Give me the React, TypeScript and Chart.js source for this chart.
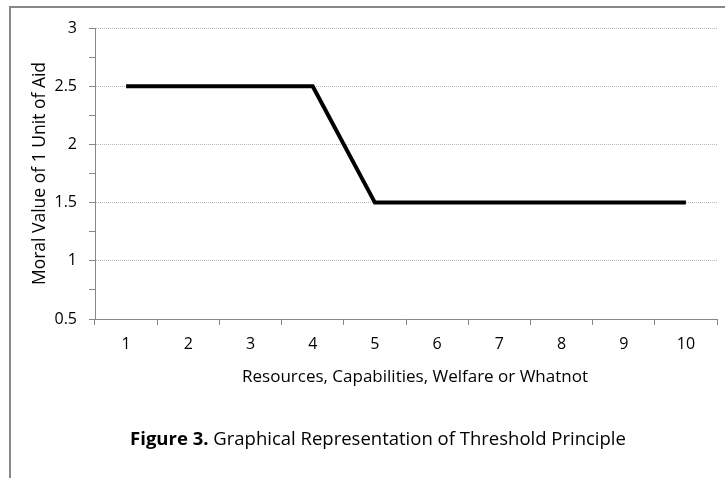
import React, { useEffect, useRef } from "react";
import { Chart, registerables } from "chart.js";

Chart.register(...registerables);

const categories = ["1", "2", "3", "4", "5", "6", "7", "8", "9", "10"];
const moralValues = [2.5, 2.5, 2.5, 2.5, 1.5, 1.5, 1.5, 1.5, 1.5, 1.5];
const yMin = 0.5;
const yMax = 3;
const yStep = 0.25;
const xTitle = "Resources, Capabilities, Welfare or Whatnot";
const yTitle = "Moral Value of 1 Unit of Aid";
const captionBold = "Figure 3.";
const captionRest = " Graphical Representation of Threshold Principle";

const FONT = "'Open Sans', Lato, sans-serif";

const isMajor = (n: number) => Math.abs(n / 0.5 - Math.round(n / 0.5)) < 1e-6;

const framePlugin = {
  id: "frameCaption",
  beforeDraw(chart: any) {
    const ctx = chart.ctx;
    ctx.save();
    ctx.fillStyle = "#ffffff";
    ctx.fillRect(0, 0, chart.width, chart.height);
    ctx.strokeStyle = "#888888";
    ctx.lineWidth = 2;
    ctx.beginPath();
    ctx.moveTo(10, chart.height);
    ctx.lineTo(10, 7);
    ctx.lineTo(chart.width, 7);
    ctx.stroke();
    ctx.restore();
  },
  afterDraw(chart: any) {
    const ctx = chart.ctx;
    const area = chart.chartArea;
    ctx.save();
    ctx.fillStyle = "#000000";
    ctx.textBaseline = "middle";
    // x axis title (Excel places it slightly right of plot centre)
    ctx.font = `17px ${FONT}`;
    ctx.textAlign = "center";
    ctx.fillText(xTitle, (area.left + area.right) / 2 + 9, area.bottom + 58);
    // caption
    const boldFont = `bold 18.5px ${FONT}`;
    const normFont = `18.5px ${FONT}`;
    ctx.font = boldFont;
    const wb = ctx.measureText(captionBold).width;
    ctx.font = normFont;
    const wn = ctx.measureText(captionRest).width;
    const cx = 378;
    const start = cx - (wb + wn) / 2;
    ctx.textAlign = "left";
    ctx.font = boldFont;
    ctx.fillText(captionBold, start, 440);
    ctx.font = normFont;
    ctx.fillText(captionRest, start + wb, 440);
    ctx.restore();
  },
};

export default function App() {
  const canvasRef = useRef<HTMLCanvasElement | null>(null);

  useEffect(() => {
    if (!canvasRef.current) return;
    const chart = new Chart(canvasRef.current, {
      type: "line",
      data: {
        labels: categories,
        datasets: [
          {
            data: moralValues,
            borderColor: "#000000",
            borderWidth: 4,
            pointRadius: 0,
            fill: false,
            tension: 0,
          },
        ],
      },
      plugins: [framePlugin],
      options: {
        animation: false,
        responsive: false,
        maintainAspectRatio: false,
        layout: { padding: { left: 24, top: 28, right: 8, bottom: 91 } },
        plugins: { legend: { display: false }, tooltip: { enabled: false } },
        scales: {
          x: {
            offset: true,
            afterFit: (s: any) => {
              s.height = 68;
            },
            grid: {
              offset: true,
              drawOnChartArea: false,
              drawTicks: true,
              tickLength: 6,
              tickColor: "#888888",
            },
            border: { display: true, color: "#888888", width: 1 },
            ticks: {
              color: "#000000",
              font: { family: FONT, size: 16 },
              padding: 10,
              maxRotation: 0,
            },
            title: { display: false },
          },
          y: {
            min: yMin,
            max: yMax,
            afterFit: (s: any) => {
              s.width = 71;
            },
            ticks: {
              stepSize: yStep,
              color: "#000000",
              font: { family: FONT, size: 16 },
              padding: 12,
              callback: (v: any) => (isMajor(Number(v)) ? String(Number(v)) : ""),
            },
            grid: {
              drawTicks: true,
              tickLength: 6,
              tickColor: "#888888",
              color: (c: any) => (c.tick && isMajor(c.tick.value) ? "#b8b8b8" : "rgba(0,0,0,0)"),
              lineWidth: 1,
            },
            border: { display: true, color: "#888888", width: 1, dash: [1, 1] },
            title: {
              display: true,
              text: yTitle,
              color: "#000000",
              font: { family: FONT, size: 17.5 },
              padding: { top: 6, bottom: 0 },
            },
          },
        },
      },
    });
    return () => chart.destroy();
  }, []);

  return (
    <div style={{ position: "fixed", left: 0, top: 0, width: 725, height: 478, background: "#fff" }}>
      <canvas ref={canvasRef} width={725} height={478} style={{ width: 725, height: 478 }} />
    </div>
  );
}
